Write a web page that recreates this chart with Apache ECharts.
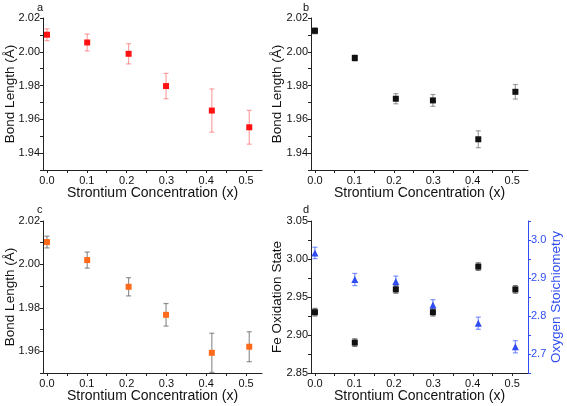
<!DOCTYPE html>
<html>
<head>
<meta charset="utf-8">
<script src="https://cdn.jsdelivr.net/npm/echarts@6/dist/echarts.min.js"></script>
<style>
html,body{margin:0;padding:0;background:#fff;}
#c{width:567px;height:406px;}
</style>
</head>
<body>
<div id="c"></div>
<script>
// ---- data ----
const xValues = [0, 0.101, 0.205, 0.299, 0.414, 0.508];

const bondA = [2.0101, 2.0055, 1.9988, 1.9797, 1.9652, 1.9553];
const bondAErr = [0.0035, 0.0050, 0.0060, 0.0075, 0.0128, 0.0100];

const bondB = [2.0124, 1.9963, 1.9722, 1.9712, 1.9482, 1.9763];
const bondBErr = [0.0018, 0.0018, 0.0030, 0.0035, 0.0050, 0.0043];

const bondC = [2.0103, 2.0020, 1.9897, 1.9768, 1.9593, 1.9621];
const bondCErr = [0.0027, 0.0037, 0.0042, 0.0052, 0.0090, 0.0069];

const feOx = [2.930, 2.890, 2.960, 2.930, 2.990, 2.960];
const feOxErr = [0.005, 0.005, 0.005, 0.005, 0.005, 0.005];

const oxStoich = [2.966, 2.896, 2.891, 2.829, 2.781, 2.719];
const oxStoichErr = [0.015, 0.016, 0.014, 0.014, 0.016, 0.016];

const xTickLabels = [0, 0.1, 0.2, 0.3, 0.4, 0.5];
const xTicks = [0, 0.05, 0.1, 0.15, 0.2, 0.25, 0.3, 0.35, 0.4, 0.45, 0.5];
const abTickLabels = [1.94, 1.96, 1.98, 2.00, 2.02];
const abTicks = [1.93, 1.94, 1.95, 1.96, 1.97, 1.98, 1.99, 2.00, 2.01, 2.02];
const cTickLabels = [1.96, 1.98, 2.00, 2.02];
const cTicks = [1.95, 1.96, 1.97, 1.98, 1.99, 2.00, 2.01, 2.02];
const feTickLabels = [2.85, 2.90, 2.95, 3.00, 3.05];
const feTicks = [2.85, 2.875, 2.90, 2.925, 2.95, 2.975, 3.00, 3.025, 3.05];
const oTickLabels = [2.7, 2.8, 2.9, 3.0];
const oTicks = [2.65, 2.7, 2.75, 2.8, 2.85, 2.9, 2.95, 3.0, 3.05];

const xTitle = 'Strontium Concentration (x)';
const leftTitles = ['Bond Length (Å)', 'Bond Length (Å)', 'Bond Length (Å)', 'Fe Oxidation State'];
const oTitle = 'Oxygen Stoichiometry';
const panelLetters = ['a', 'b', 'c', 'd'];

// ---- helpers ----
const FONT = '"Liberation Sans", Arial, sans-serif';
const AXC = '#222';
const BLUE = '#2f4df2';

const grids = [
  {left: 43, top: 18, width: 219, height: 152},
  {left: 311, top: 18, width: 217, height: 152},
  {left: 43, top: 221, width: 219, height: 152},
  {left: 311, top: 221, width: 217, height: 152}
];

function xAxisFor(i) {
  return {
    type: 'value', gridIndex: i, min: -0.01, max: 0.54,
    name: xTitle, nameLocation: 'middle', nameGap: 16, nameMoveOverlap: false,
    nameTextStyle: {fontFamily: FONT, fontSize: 14, color: '#111'},
    axisLine: {show: true, onZero: false, lineStyle: {color: AXC, width: 1}},
    axisTick: {show: true, length: 3, inside: false, customValues: xTicks, lineStyle: {color: AXC}},
    axisLabel: {customValues: xTickLabels, fontFamily: FONT, fontSize: 11, color: '#111', margin: 5,
      formatter: v => v.toFixed(1)},
    splitLine: {show: false}
  };
}

function yAxisFor(i, min, max, ticks, labels, digits, color, pos, name) {
  const ax = {
    type: 'value', gridIndex: i, min: min, max: max, position: pos || 'left',
    axisLine: {show: true, onZero: false, lineStyle: {color: color === '#111' ? AXC : color, width: 1}},
    axisTick: {show: true, length: 3, inside: false, customValues: ticks, lineStyle: {color: color === '#111' ? AXC : color}},
    axisLabel: {customValues: labels, fontFamily: FONT, fontSize: 11, color: color, margin: 3,
      formatter: v => v.toFixed(digits)},
    splitLine: {show: false}
  };
  if (name) {
    ax.name = name; ax.nameLocation = 'middle'; ax.nameGap = 21; ax.nameRotate = 90;
    ax.nameMoveOverlap = false;
    ax.nameTextStyle = {fontFamily: FONT, fontSize: 13.5, color: color};
  }
  return ax;
}

function errData(ys, es) {
  return xValues.map((x, k) => [x, ys[k] - es[k], ys[k] + es[k]]);
}
function ptData(ys) {
  return xValues.map((x, k) => [x, ys[k]]);
}
function errSeries(xi, yi, ys, es, color) {
  return {
    type: 'custom', xAxisIndex: xi, yAxisIndex: yi, z: 2, silent: true,
    encode: {x: 0, y: [1, 2]},
    data: errData(ys, es),
    renderItem: function (params, api) {
      const x = api.value(0);
      const p1 = api.coord([x, api.value(2)]);
      const p2 = api.coord([x, api.value(1)]);
      const w = 2.5;
      const st = {stroke: color, lineWidth: 1.2};
      return {type: 'group', children: [
        {type: 'line', shape: {x1: p1[0], y1: p1[1], x2: p2[0], y2: p2[1]}, style: st},
        {type: 'line', shape: {x1: p1[0] - w, y1: p1[1], x2: p1[0] + w, y2: p1[1]}, style: st},
        {type: 'line', shape: {x1: p2[0] - w, y1: p2[1], x2: p2[0] + w, y2: p2[1]}, style: st}
      ]};
    }
  };
}
function ptSeries(xi, yi, ys, color, symbol, size) {
  return {
    type: 'scatter', xAxisIndex: xi, yAxisIndex: yi, z: 5, silent: true,
    symbol: symbol, symbolSize: size,
    itemStyle: {color: color, opacity: 1},
    data: ptData(ys)
  };
}

const letterPos = [[37, 2], [303, 2], [37, 204], [303, 204]];
const titlePos = [[10, 94], [277, 94], [10, 297], [277, 297]];

const graphics = panelLetters.map((t, i) => ({
  type: 'text', x: letterPos[i][0], y: letterPos[i][1],
  style: {text: t, fontFamily: FONT, fontSize: 11, fill: '#111'}
})).concat(leftTitles.map((t, i) => ({
  type: 'text', x: titlePos[i][0], y: titlePos[i][1], rotation: Math.PI / 2,
  style: {text: t, fontFamily: FONT, fontSize: 13.5, fill: '#111', align: 'center', verticalAlign: 'middle'}
})));

const option = {
  animation: false,
  backgroundColor: '#fff',
  grid: grids,
  graphic: graphics,
  xAxis: [xAxisFor(0), xAxisFor(1), xAxisFor(2), xAxisFor(3)],
  yAxis: [
    yAxisFor(0, 1.93, 2.02, abTicks, abTickLabels, 2, '#111'),
    yAxisFor(1, 1.93, 2.02, abTicks, abTickLabels, 2, '#111'),
    yAxisFor(2, 1.95, 2.02, cTicks, cTickLabels, 2, '#111'),
    yAxisFor(3, 2.85, 3.05, feTicks, feTickLabels, 2, '#111'),
    yAxisFor(3, 2.65, 3.05, oTicks, oTickLabels, 1, BLUE, 'right', oTitle)
  ],
  series: [
    errSeries(0, 0, bondA, bondAErr, 'rgba(255,90,90,0.55)'),
    ptSeries(0, 0, bondA, '#ff1111', 'rect', 6),
    errSeries(1, 1, bondB, bondBErr, 'rgba(120,120,120,0.7)'),
    ptSeries(1, 1, bondB, '#111', 'rect', 6),
    errSeries(2, 2, bondC, bondCErr, 'rgba(110,110,110,0.75)'),
    ptSeries(2, 2, bondC, '#ff6a1a', 'rect', 6),
    errSeries(3, 3, feOx, feOxErr, 'rgba(90,90,90,0.8)'),
    ptSeries(3, 3, feOx, '#111', 'rect', 6),
    errSeries(3, 4, oxStoich, oxStoichErr, 'rgba(70,100,255,0.7)'),
    ptSeries(3, 4, oxStoich, BLUE, 'triangle', 7)
  ]
};

const chart = echarts.init(document.getElementById('c'), null, {renderer: 'canvas'});
chart.setOption(option);
</script>
</body>
</html>
